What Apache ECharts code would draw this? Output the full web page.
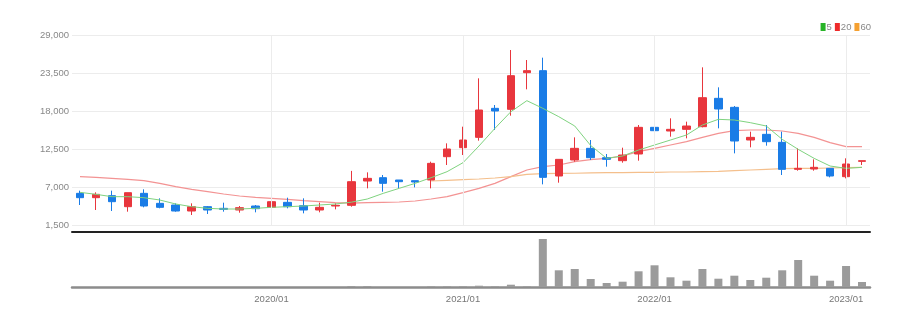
<!DOCTYPE html>
<html><head><meta charset="utf-8">
<script src="https://cdn.jsdelivr.net/npm/echarts@6/dist/echarts.min.js"></script>
<style>html,body{margin:0;padding:0;background:#fff}#c{width:918px;height:323px}</style>
</head><body><div id="c"></div>
<script>
const categories = ["2019/01","2019/02","2019/03","2019/04","2019/05","2019/06","2019/07","2019/08","2019/09","2019/10","2019/11","2019/12",
"2020/01","2020/02","2020/03","2020/04","2020/05","2020/06","2020/07","2020/08","2020/09","2020/10","2020/11","2020/12",
"2021/01","2021/02","2021/03","2021/04","2021/05","2021/06","2021/07","2021/08","2021/09","2021/10","2021/11","2021/12",
"2022/01","2022/02","2022/03","2022/04","2022/05","2022/06","2022/07","2022/08","2022/09","2022/10","2022/11","2022/12",
"2023/01","2023/02"];
const openP  = [6083,5455,5745,4152,6083,4635,4394,3525,4152,3911,3670,4249,4056,4780,4297,3670,4249,4345,7866,8349,8011,7915,8011,11388,12691,14187,18385,18240,23547,23837,8590,10906,12595,11244,10810,11775,15635,15104,15345,15731,19833,18530,13802,14622,13464,9556,9604,9700,8494,10713];
const closeP = [5455,5938,4876,6179,4249,4056,3525,4152,3670,3766,4007,3863,4876,4152,3670,4056,4345,7770,8252,7528,7770,7722,10423,12498,13801,18143,17999,23113,23837,8397,11002,12595,11244,11003,11630,15635,15152,15345,15828,19929,18289,13657,14187,13560,9556,9700,9845,8590,10327,10810];
const lowP   = [4394,3670,3525,3429,4056,3911,3429,2946,3091,3429,3284,3332,3766,3911,3187,3332,3766,4152,6805,6322,6805,6949,6805,10182,11630,13704,15249,17323,21135,7384,7625,10664,10906,9942,10521,10810,13078,14284,14043,15635,15490,11871,12740,12981,8735,9363,9363,8397,8252,10182];
const highP  = [6469,6227,6469,6179,6661,5359,4635,4635,4249,4731,4249,4394,5118,5455,5359,4731,4635,9330,9121,8735,8011,7915,10664,13318,15731,22727,18867,26828,25381,25719,11002,14187,13802,11775,12692,15973,18385,16938,16456,24320,21425,18723,15007,15973,15007,12595,11003,9700,11148,10810];
const ma5  = [6227,5938,5600,5600,5455,5118,4539,4152,3911,3815,3815,3911,4056,4152,4249,4394,4539,4800,5260,6080,6805,7529,8349,9217,10520,12932,15490,17902,19494,18385,17178,15828,13000,11148,11486,12354,13078,13802,14525,15973,16793,16697,16311,15828,13898,12451,11148,10038,9700,9845];
const ma20 = [8495,8399,8254,8109,7916,7530,7048,6662,6324,5986,5697,5504,5359,5214,5021,4876,4732,4680,4730,4779,4827,4972,5260,5598,6178,6805,7529,8494,9459,9941,10183,10665,10950,11148,11486,12113,12596,13078,13560,14187,14767,15153,15249,15249,15104,14767,14187,13416,12837,12837];
const ma60 = [null,null,null,null,null,null,null,null,null,null,null,null,null,null,null,null,null,null,null,null,null,null,7866,7963,8060,8156,8300,8494,8830,8927,8976,8990,9050,9073,9073,9121,9121,9170,9170,9218,9266,9363,9459,9556,9652,9700,9700,9749,9797,9845];
const volume = [0,0,0,0,0,0,0,0,0,0,0,0,0,0,0,0,0,100,100,0,0,0,70,70,70,130,70,230,70,4800,1670,1800,800,400,530,1570,2170,970,630,1800,830,1130,700,930,1670,2700,1130,630,2100,500];
const yearTicks = ["2020/01","2021/01","2022/01","2023/01"];
const legendNames = ["5","20","60"];

const candleData = categories.map((c,i)=>[openP[i],closeP[i],lowP[i],highP[i]]);
const FONT = "'Liberation Sans',Arial,sans-serif";
const yearIdx = yearTicks.map(t=>categories.indexOf(t));
const chart = echarts.init(document.getElementById('c'));
chart.setOption({
  animation:false,
  backgroundColor:'#fff',
  legend:{
    data:legendNames, right:42, top:17, icon:'rect', itemWidth:5, itemHeight:8, itemGap:3,
    textStyle:{color:'#888', fontSize:9.5, fontFamily:FONT, padding:[0,0,0,-4]}
  },
  grid:[
    {left:72, right:48, top:35, height:190},
    {left:72, right:48, top:232, height:55}
  ],
  xAxis:[
    {type:'category', gridIndex:0, data:categories, boundaryGap:true,
     axisLine:{show:false}, axisTick:{show:false}, axisLabel:{show:false}, splitLine:{show:false}},
    {type:'category', gridIndex:1, data:categories, boundaryGap:true, position:'bottom',
     axisLine:{lineStyle:{color:'#8c8c8c', width:2.5}},
     axisTick:{alignWithLabel:true, length:5, lineStyle:{color:'#555'}, interval:(i)=>yearIdx.includes(i)},
     axisLabel:{interval:(i)=>yearIdx.includes(i), color:'#777', fontSize:9.5, fontFamily:FONT, margin:7},
     splitLine:{show:false}},
    {type:'category', gridIndex:1, data:categories, boundaryGap:true, position:'top',
     axisLine:{lineStyle:{color:'#222', width:2}}, axisTick:{show:false}, axisLabel:{show:false}}
  ],
  yAxis:[
    {type:'value', gridIndex:0, min:1500, max:29000, interval:5500,
     axisLine:{show:false}, axisTick:{show:false},
     axisLabel:{color:'#888', fontSize:9.5, fontFamily:FONT, margin:3,
       formatter:(v)=>v.toLocaleString('en-US')},
     splitLine:{lineStyle:{color:'#ececec'}}},
    {type:'value', gridIndex:1, min:0, max:5500, show:false, splitLine:{show:false}}
  ],
  series:[
    {name:'candle', type:'candlestick', xAxisIndex:0, yAxisIndex:0, data:candleData, barWidth:8,
     itemStyle:{color:'#e8363d', color0:'#1a7ce6', borderColor:'#e8363d', borderColor0:'#1a7ce6', borderWidth:1},
     markLine:{silent:true, symbol:'none', label:{show:false}, lineStyle:{color:'#ececec', type:'solid', width:1},
       data:yearTicks.map(t=>({xAxis:t}))}, z:3},
    {name:'5', type:'line', data:ma5, xAxisIndex:0, yAxisIndex:0, showSymbol:false, smooth:false,
     itemStyle:{color:'#28b428'}, lineStyle:{color:'#7fd37f', width:1}, z:4},
    {name:'20', type:'line', data:ma20, xAxisIndex:0, yAxisIndex:0, showSymbol:false,
     itemStyle:{color:'#ee2a2a'}, lineStyle:{color:'#f39393', width:1.2}, z:2},
    {name:'60', type:'line', data:ma60, xAxisIndex:0, yAxisIndex:0, showSymbol:false,
     itemStyle:{color:'#f5a030'}, lineStyle:{color:'#f4bf8c', width:1.2}, z:2},
    {name:'vol', type:'bar', xAxisIndex:1, yAxisIndex:1, data:volume, barWidth:8,
     itemStyle:{color:'#9b9b9b'}}
  ]
});
</script></body></html>
